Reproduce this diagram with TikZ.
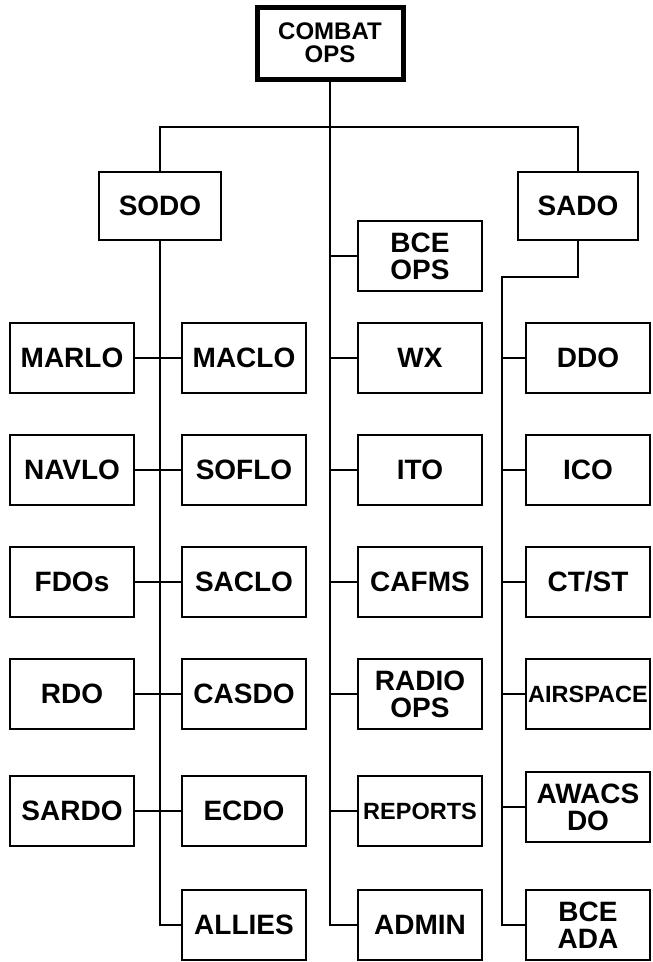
\documentclass[tikz,border=0pt]{standalone}
\usepackage{fontspec}
\setmainfont{Liberation Sans}
\usetikzlibrary{positioning}
\tikzset{
  unit/.style={draw=black, line width=2.4pt, fill=white, inner sep=0pt,
               minimum width=124pt, minimum height=70pt, align=center,
               font=\fontsize{28}{27}\selectfont\bfseries},
  small/.style={font=\fontsize{23.5}{23}\selectfont\bfseries},
  head/.style={unit, line width=5pt, minimum width=146pt, minimum height=72pt,
               font=\fontsize{24}{23}\selectfont\bfseries},
  link/.style={draw=black, line width=2.2pt},
}

\begin{document}
\begin{tikzpicture}[x=1pt, y=-1pt]
\useasboundingbox (0,0) rectangle (653,962);
% columns of boxes, trunks between them, rows top to bottom
\def\ca{72} \def\cb{244} \def\cc{420} \def\cd{588}
\def\ta{160} \def\tb{330} \def\tc{502}
\def\ra{358} \def\rb{470} \def\rc{582} \def\rd{694} \def\re{811} \def\rf{925}

% top and the two deputies
\node[head] (combat) at (\tb,43) {COMBAT\\OPS};
\node[unit, minimum width=122pt, minimum height=68pt] (sodo) at (\ta,206) {SODO};
\node[unit, minimum width=120pt, minimum height=68pt] (sado) at (578,206) {SADO};
\coordinate (bar) at (\tb,127);
\coordinate (elbow) at (\tc,277);

% SODO side, two columns either side of its trunk
\foreach \n/\t/\y in {marlo/MARLO/\ra, navlo/NAVLO/\rb, fdos/FDOs/\rc,
                      rdo/RDO/\rd, sardo/SARDO/\re}
  \node[unit] (\n) at (\ca,\y) {\t};
\foreach \n/\t/\y in {maclo/MACLO/\ra, soflo/SOFLO/\rb, saclo/SACLO/\rc,
                      casdo/CASDO/\rd, ecdo/ECDO/\re, allies/ALLIES/\rf}
  \node[unit] (\n) at (\cb,\y) {\t};

% staff directly under COMBAT OPS
\node[unit] (bceops) at (\cc,256) {BCE\\OPS};
\foreach \n/\t/\y in {wx/WX/\ra, ito/ITO/\rb, cafms/CAFMS/\rc,
                      radio/{RADIO\\OPS}/\rd, admin/ADMIN/\rf}
  \node[unit] (\n) at (\cc,\y) {\t};
\node[unit, small] (reports) at (\cc,\re) {REPORTS};

% SADO side
\foreach \n/\t/\y in {ddo/DDO/\ra, ico/ICO/\rb, ctst/{CT/ST}/\rc,
                      awacs/{AWACS\\DO}/807, bceada/{BCE\\ADA}/\rf}
  \node[unit] (\n) at (\cd,\y) {\t};
\node[unit, small] (airspace) at (\cd,\rd) {AIRSPACE};

% connectors
\draw[link] (sodo.north) -- (sodo.north |- bar) -- (sado.north |- bar) -- (sado.north);
\draw[link] (combat.south) -- (combat.south |- admin) -- (admin.west);
\draw[link] (sodo.south) -- (sodo.south |- allies) -- (allies.west);
\draw[link] (sado.south) |- (elbow) -- (elbow |- bceada) -- (bceada.west);
\foreach \a/\b in {marlo/maclo, navlo/soflo, fdos/saclo, rdo/casdo, sardo/ecdo}
  \draw[link] (\a.east) -- (\b.west);
\foreach \n in {bceops, wx, ito, cafms, radio, reports}
  \draw[link] (\n.west) -- (\n.west -| combat.south);
\foreach \n in {ddo, ico, ctst, airspace, awacs}
  \draw[link] (\n.west) -- (\n.west -| elbow);
\end{tikzpicture}
\end{document}
